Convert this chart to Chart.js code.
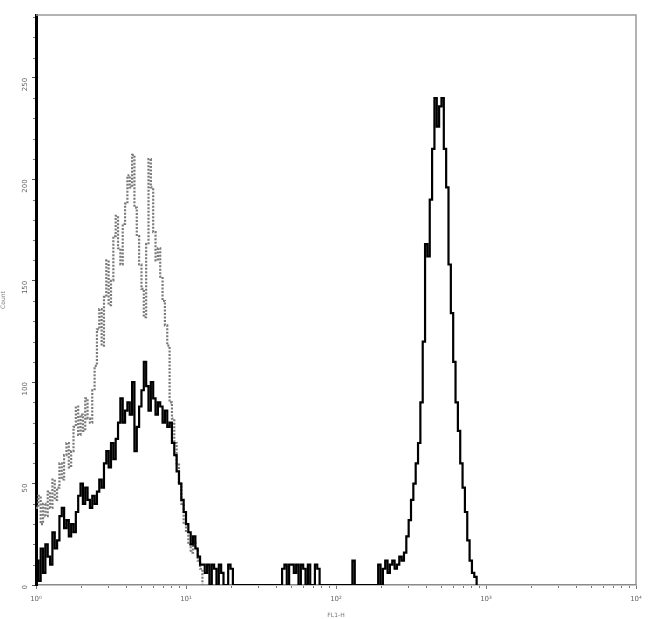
<!DOCTYPE html>
<html>
<head>
<meta charset="utf-8">
<script src="https://cdn.jsdelivr.net/npm/chart.js@4/dist/chart.umd.min.js"></script>
<style>
  html, body { margin: 0; padding: 0; background: #fff; }
  #wrap { width: 650px; height: 619px; position: relative; }
</style>
</head>
<body>
<div id="wrap"><canvas id="histo"></canvas></div>
<script>
// 256 display channels over 4 decades (64 channels per decade)
const decadeChannels = [0, 64, 128, 192, 256];
const decadeLabels = ["10\u2070", "10\u00b9", "10\u00b2", "10\u00b3", "10\u2074"];
const countTicks = [0, 50, 100, 150, 200, 250];

// stained sample, counts per channel starting at channel 0
const stainedCounts = [
  12, 2, 18, 6, 20, 14, 10, 26, 18, 22,
  34, 38, 28, 32, 24, 30, 26, 36, 44, 50,
  40, 48, 42, 38, 44, 40, 46, 52, 48, 60,
  66, 58, 70, 62, 72, 80, 92, 80, 86, 90,
  84, 100, 66, 78, 88, 96, 110, 98, 86, 100,
  92, 84, 90, 88, 80, 86, 78, 80, 70, 64,
  56, 50, 42, 36, 30, 26, 20, 24, 18, 14,
  10, 10, 6, 10, 0, 10, 8, 0, 10, 6,
  0, 0, 10, 8, 0, 0, 0, 0, 0, 0,
  0, 0, 0, 0, 0, 0, 0, 0, 0, 0,
  0, 0, 0, 0, 0, 8, 10, 0, 10, 10,
  6, 10, 0, 10, 8, 0, 10, 0, 0, 10,
  8, 0, 0, 0, 0, 0, 0, 0, 0, 0,
  0, 0, 0, 0, 0, 12, 0, 0, 0, 0,
  0, 0, 0, 0, 0, 0, 10, 0, 8, 12,
  6, 10, 12, 8, 10, 14, 12, 16, 24, 32,
  42, 50, 60, 70, 90, 120, 168, 162, 190, 215,
  240, 226, 236, 240, 215, 196, 158, 134, 110, 90,
  76, 60, 48, 36, 22, 12, 6, 4, 0
];

// isotype control, counts per channel starting at channel 0
const controlCounts = [
  38, 44, 30, 40, 34, 46, 38, 52, 42, 48,
  60, 52, 64, 70, 58, 66, 78, 88, 74, 84,
  76, 92, 82, 80, 96, 108, 126, 136, 118, 142,
  160, 138, 150, 172, 182, 166, 158, 178, 188, 202,
  196, 212, 186, 172, 158, 146, 132, 168, 210, 196,
  174, 160, 166, 152, 140, 128, 118, 90, 82, 70,
  60, 50, 40, 30, 26, 20, 16, 22, 18, 12,
  8, 0
];

function toPoints(counts) {
  return counts.map((v, i) => ({ x: i, y: v }));
}

// frame on top/right plus the small minor ticks of both axes
const framePlugin = {
  id: "frame",
  afterDraw(chart) {
    const { ctx, chartArea, scales } = chart;
    ctx.save();
    ctx.strokeStyle = "#9a9a9a";
    ctx.lineWidth = 1.5;
    ctx.beginPath();
    ctx.moveTo(chartArea.left, chartArea.top);
    ctx.lineTo(chartArea.right, chartArea.top);
    ctx.lineTo(chartArea.right, chartArea.bottom);
    ctx.stroke();

    ctx.strokeStyle = "#777";
    ctx.lineWidth = 1;
    ctx.beginPath();
    for (let v = 10; v < 281; v += 10) {
      if (v % 50 === 0) continue;
      const y = Math.round(scales.y.getPixelForValue(v)) + 0.5;
      ctx.moveTo(chartArea.left - 3, y);
      ctx.lineTo(chartArea.left - 1, y);
    }
    for (let d = 0; d < 4; d++) {
      for (let k = 2; k < 10; k++) {
        const x = Math.round(scales.x.getPixelForValue(64 * (d + Math.log10(k)))) + 0.5;
        ctx.moveTo(x, chartArea.bottom + 1);
        ctx.lineTo(x, chartArea.bottom + 3);
      }
    }
    ctx.stroke();
    ctx.restore();
  },
};

new Chart(document.getElementById("histo"), {
  type: "line",
  data: {
    datasets: [
      {
        label: "stained",
        data: toPoints(stainedCounts),
        borderColor: "#000",
        borderWidth: 2.2,
        stepped: true,
        pointRadius: 0,
        fill: false,
      },
      {
        label: "control",
        data: toPoints(controlCounts),
        borderColor: "#7a7a7a",
        borderWidth: 2.2,
        borderDash: [2, 1.5],
        stepped: true,
        pointRadius: 0,
        fill: false,
      },
    ],
  },
  options: {
    responsive: true,
    maintainAspectRatio: false,
    animation: false,
    layout: { padding: { top: 15, right: 14, left: 0, bottom: 0 } },
    plugins: { legend: { display: false }, tooltip: { enabled: false } },
    scales: {
      x: {
        type: "linear",
        min: 0,
        max: 256,
        afterBuildTicks: (scale) => { scale.ticks = decadeChannels.map((v) => ({ value: v })); },
        afterFit: (scale) => { scale.height = 34; },
        ticks: {
          color: "#666",
          font: { family: "DejaVu Sans", size: 7 },
          padding: 6,
          maxRotation: 0,
          callback: (v) => decadeLabels[decadeChannels.indexOf(v)],
        },
        grid: { drawOnChartArea: false, drawTicks: true, tickLength: 4, color: "#777" },
        border: { color: "#8a8a8a", width: 1.5 },
        title: {
          display: true,
          text: "FL1-H",
          color: "#777",
          font: { family: "DejaVu Sans", size: 6 },
          padding: { top: 0, bottom: 0 },
        },
      },
      y: {
        min: 0,
        max: 281,
        afterBuildTicks: (scale) => { scale.ticks = countTicks.map((v) => ({ value: v })); },
        afterFit: (scale) => { scale.width = 36; },
        ticks: {
          color: "#666",
          font: { family: "DejaVu Sans", size: 7 },
          padding: 7,
          minRotation: 90,
          maxRotation: 90,
        },
        grid: { drawOnChartArea: false, drawTicks: true, tickLength: 4, color: "#555" },
        border: { color: "#000", width: 3 },
        title: {
          display: true,
          text: "Count",
          color: "#777",
          font: { family: "DejaVu Sans", size: 6 },
          padding: { top: 0, bottom: 0 },
        },
      },
    },
  },
  plugins: [framePlugin],
});
</script>
</body>
</html>
